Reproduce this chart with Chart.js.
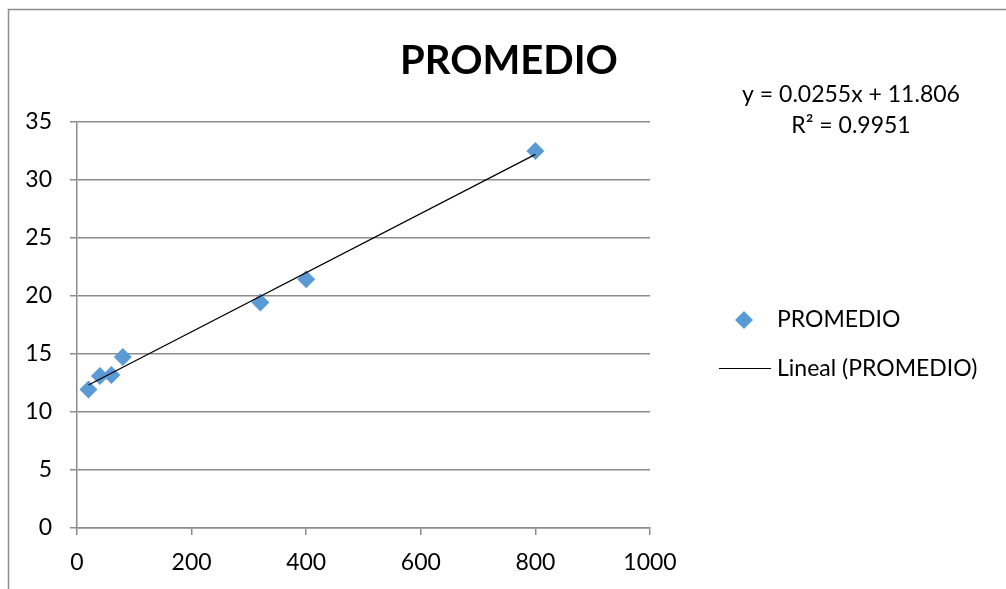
<!DOCTYPE html>
<html><head><meta charset="utf-8">
<script src="https://cdn.jsdelivr.net/npm/chart.js@4/dist/chart.umd.min.js"></script>
<style>html,body{margin:0;padding:0;background:#fff;} #wrap{width:1006px;height:589px;position:relative;}</style>
</head><body><div id="wrap"><canvas id="c" width="1006" height="589"></canvas></div>
<script>
// ---- data ----
const xValues = [20, 40, 60, 80, 320, 400, 800];
const yValues = [11.95, 13.1, 13.2, 14.75, 19.45, 21.45, 32.5];
const trendX = [20, 800];
const trendY = [12.32, 32.21];
const xTicks = [0, 200, 400, 600, 800, 1000];
const yTicks = [0, 5, 10, 15, 20, 25, 30, 35];
const titleText = 'PROMEDIO';
const seriesName = 'PROMEDIO';
const trendName = 'Lineal (PROMEDIO)';
const equationLines = ['y = 0.0255x + 11.806', 'R\u00B2 = 0.9951'];

const FONT = 'Lato, "Open Sans", sans-serif';
const GRID = '#8c8c8c';
const BLUE = '#5b9bd5';

const points = xValues.map((x, i) => ({x: x, y: yValues[i]}));
const trend = trendX.map((x, i) => ({x: x, y: trendY[i]}));

const decor = {
  id: 'decor',
  beforeDraw(chart) {
    const ctx = chart.ctx;
    ctx.save();
    ctx.fillStyle = '#fff';
    ctx.fillRect(0, 0, chart.width, chart.height);
    ctx.restore();
  },
  afterDraw(chart) {
    const ctx = chart.ctx;
    ctx.save();
    // outer chart frame
    ctx.strokeStyle = GRID;
    ctx.lineWidth = 1.5;
    ctx.beginPath();
    ctx.moveTo(8.5, chart.height + 2);
    ctx.lineTo(8.5, 9.5);
    ctx.lineTo(chart.width + 2, 9.5);
    ctx.stroke();
    // title
    ctx.fillStyle = '#000';
    ctx.textAlign = 'center';
    ctx.textBaseline = 'alphabetic';
    ctx.font = 'bold 40px ' + FONT;
    ctx.fillText(titleText, 509, 74);
    // trendline equation
    ctx.font = '23px ' + FONT;
    ctx.fillText(equationLines[0], 851, 102);
    ctx.fillText(equationLines[1], 851, 133);
    // legend
    ctx.textAlign = 'left';
    ctx.fillText(seriesName, 777, 327);
    ctx.fillText(trendName, 777, 376);
    ctx.fillStyle = BLUE;
    ctx.strokeStyle = BLUE;
    ctx.lineWidth = 1;
    Chart.helpers.drawPoint(ctx, {pointStyle: 'rectRot', radius: 9, borderWidth: 0}, 744, 320);
    ctx.strokeStyle = '#000';
    ctx.lineWidth = 1;
    ctx.beginPath();
    ctx.moveTo(719, 368.5);
    ctx.lineTo(771, 368.5);
    ctx.stroke();
    ctx.restore();
  }
};

new Chart(document.getElementById('c'), {
  type: 'scatter',
  data: {
    datasets: [
      {
        label: trendName,
        type: 'line',
        data: trend,
        borderColor: '#000',
        borderWidth: 1.2,
        pointRadius: 0,
        fill: false,
        tension: 0,
        order: 0
      },
      {
        label: seriesName,
        data: points,
        pointStyle: 'rectRot',
        pointRadius: 9,
        pointHoverRadius: 9,
        backgroundColor: BLUE,
        borderColor: BLUE,
        borderWidth: 0,
        order: 1
      }
    ]
  },
  options: {
    responsive: false,
    animation: false,
    devicePixelRatio: 1,
    layout: {padding: {left: 0, top: 122, right: 356, bottom: 0}},
    plugins: {
      legend: {display: false},
      title: {display: false},
      tooltip: {enabled: false}
    },
    scales: {
      x: {
        type: 'linear',
        min: 0, max: 1000,
        afterBuildTicks: s => { s.ticks = xTicks.map(v => ({value: v})); },
        afterFit: s => { s.height = 61; },
        ticks: {color: '#000', font: {family: FONT, size: 23}, padding: 14, maxRotation: 0, autoSkip: false,
                callback: v => String(v)},
        grid: {drawOnChartArea: false, drawTicks: true, tickLength: 7, color: GRID, lineWidth: 1.5},
        border: {display: true, color: GRID, width: 1.5}
      },
      y: {
        type: 'linear',
        min: 0, max: 35,
        afterBuildTicks: s => { s.ticks = yTicks.map(v => ({value: v})); },
        afterFit: s => { s.width = 77; },
        ticks: {color: '#000', font: {family: FONT, size: 23}, padding: 18, autoSkip: false,
                callback: v => String(v)},
        grid: {drawTicks: true, tickLength: 7, color: GRID, lineWidth: 1.5},
        border: {display: true, color: GRID, width: 1.5}
      }
    }
  },
  plugins: [decor]
});
</script>
</body></html>
